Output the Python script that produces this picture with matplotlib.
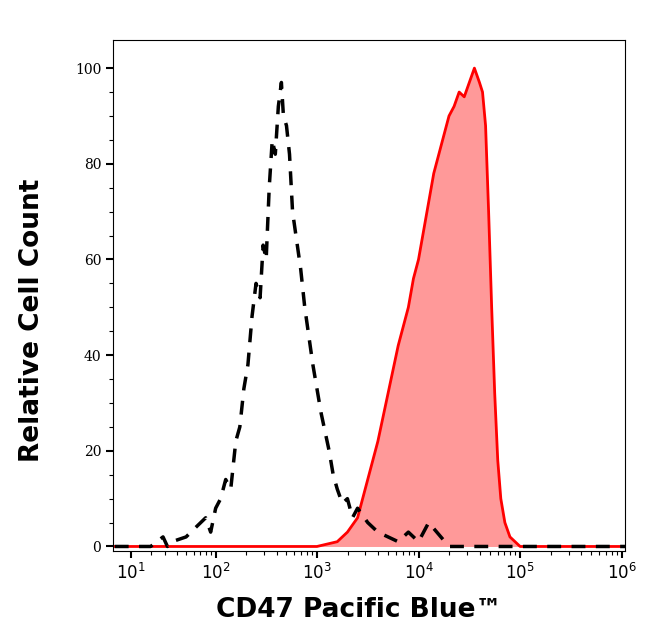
import numpy as np
import matplotlib.pyplot as plt

plt.rcParams['font.family'] = 'DejaVu Serif'

# --- data (log10 of fluorescence, relative count) ---
iso_log = [0.5, 1.0, 1.3, 1.45, 1.5, 1.55, 1.7, 1.8, 1.9, 1.95, 2.0, 2.05, 2.1, 2.15, 2.2, 2.24,
           2.28, 2.32, 2.36, 2.4, 2.44, 2.47, 2.5, 2.53, 2.56, 2.59, 2.62, 2.65, 2.67, 2.7,
           2.73, 2.76, 2.8, 2.84, 2.88, 2.92, 2.96, 3.0, 3.04, 3.08, 3.12, 3.16, 3.2, 3.25,
           3.3, 3.35, 3.4, 3.5, 3.6, 3.7, 3.8, 3.9, 4.0, 4.1, 4.3, 4.6, 5.0, 5.5, 6.1]
iso_cnt = [0, 0, 0, 2, 0, 1, 2, 4, 6, 3, 8, 10, 14, 12, 22, 25,
           33, 38, 48, 55, 52, 63, 60, 75, 85, 82, 92, 97, 90, 88,
           82, 70, 64, 58, 50, 44, 38, 33, 28, 24, 20, 15, 12, 9,
           10, 6, 8, 5, 3, 2, 1, 3, 1, 5, 0, 0, 0, 0, 0]

cd47_log = [0.5, 2.0, 3.0, 3.2, 3.3, 3.4, 3.45, 3.5, 3.55, 3.6, 3.65, 3.7, 3.75, 3.8, 3.85,
            3.9, 3.95, 4.0, 4.05, 4.1, 4.15, 4.2, 4.25, 4.3, 4.35, 4.4, 4.45, 4.5, 4.55,
            4.6, 4.63, 4.66, 4.69, 4.72, 4.75, 4.78, 4.81, 4.85, 4.9, 4.95, 5.0, 5.2, 6.1]
cd47_cnt = [0, 0, 0, 1, 3, 6, 10, 14, 18, 22, 27, 32, 37, 42, 46,
            50, 56, 60, 66, 72, 78, 82, 86, 90, 92, 95, 94, 97, 100,
            97, 95, 88, 70, 50, 32, 18, 10, 5, 2, 1, 0, 0, 0]

W = 17.0
fwd = lambda x: np.arcsinh(np.asarray(x) / W)
inv = lambda u: W * np.sinh(np.asarray(u))

fig = plt.figure(figsize=(6.46, 6.41), dpi=100)
ax = fig.add_axes([0.175, 0.14, 0.792, 0.797])
ax.set_xscale('function', functions=(fwd, inv))

iso_x = 10 ** np.array(iso_log)
cd_x = 10 ** np.array(cd47_log)
ax.fill_between(cd_x, cd47_cnt, color='#ff9999', lw=0)
ax.plot(cd_x, cd47_cnt, color='#ff0000', lw=2)
ax.plot(iso_x, iso_cnt, color='black', lw=2.5, ls=(0, (4, 3)))

ax.set_xlim(2.5, 1.07e6)
ax.set_ylim(-1, 105.8)
ax.set_xticks([10 ** k for k in range(1, 7)])
ax.set_xticklabels([f'$10^{k}$' for k in range(1, 7)], fontsize=11)
minor = [m * 10 ** k for k in range(1, 6) for m in range(2, 10)]
ax.set_xticks([v for v in minor if v < 1.07e6], minor=True)
ax.set_yticks([0, 20, 40, 60, 80, 100])
ax.set_yticks(range(0, 101, 5), minor=True)
ax.tick_params(axis='both', which='major', length=5, width=1.5, labelsize=10)
ax.tick_params(axis='both', which='minor', length=3, width=0.8)
ax.tick_params(axis='x', which='major', labelsize=12)

fig.text(0.555, 0.038, 'CD47 Pacific Blue™', ha='center', fontsize=19,
         fontweight='bold', family='DejaVu Sans')
fig.text(0.03, 0.5, 'Relative Cell Count', va='center', rotation=90,
         fontsize=19, fontweight='bold', family='DejaVu Sans')

fig.savefig('out.png', dpi=100)
